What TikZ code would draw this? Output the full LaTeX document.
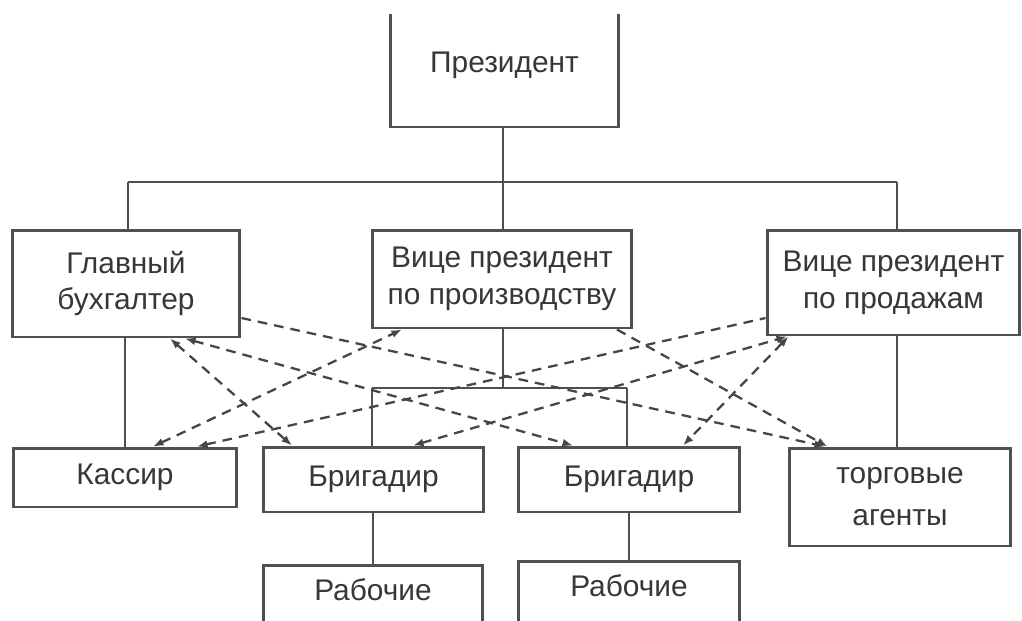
\documentclass[tikz,border=0pt]{standalone}
\usepackage{fontspec}
\setmainfont{Liberation Sans}
\usetikzlibrary{arrows.meta,calc}
\definecolor{boxline}{RGB}{80,80,80}
\definecolor{dashline}{RGB}{70,70,70}
\definecolor{txt}{RGB}{55,55,55}
\tikzset{
  box/.style={draw=boxline, line width=1.7pt, rectangle, inner sep=0pt, align=center,
    text=txt, font=\fontsize{17pt}{21pt}\selectfont},
  lbl/.style={inner sep=0pt, text=txt, font=\fontsize{17pt}{21pt}\selectfont},
  solid link/.style={draw=boxline, line width=1.4pt},
  dlink/.style={draw=dashline, line width=1.3pt, dash pattern=on 5.5pt off 4pt},
  tipa/.tip={Latex[length=6pt,width=4.5pt]}
}
\begin{document}
\begin{tikzpicture}[x=0.02cm,y=-0.02cm]
\useasboundingbox[fill=white] (0,0) rectangle (1022,620);
\begin{scope}
\clip (0,14) rectangle (1022,620);
% top level
\node[box, minimum width=4.58cm, minimum height=2.48cm] (pres) at (504.5,65) {Президент};
% second row
\node[box, minimum width=4.56cm, minimum height=2.14cm] (glav) at (126,283.5) {Главный\\бухгалтер};
\node[box, minimum width=5.2cm, minimum height=1.96cm] (vpp) at (502,279) {Вице президент\\по производству};
\node[box, minimum width=5.06cm, minimum height=2.1cm] (vps) at (893.5,282.5) {Вице президент\\по продажам};
% third row
\node[box, minimum width=4.48cm, minimum height=1.18cm] (kas) at (125,477.5) {Кассир};
\node[box, minimum width=4.42cm, minimum height=1.3cm] (brig1) at (373.5,479.5) {Бригадир};
\node[box, minimum width=4.44cm, minimum height=1.3cm] (brig2) at (629,479.5) {Бригадир};
\node[box, minimum width=4.44cm, minimum height=1.96cm, font=\fontsize{17pt}{24pt}\selectfont] (torg) at (900,497) {торговые\\агенты};
% fourth row (cut by the lower edge)
\node[box, minimum width=4.4cm, minimum height=2cm] (rab1) at (373,615) {};
\node[box, minimum width=4.44cm, minimum height=2cm] (rab2) at (629,611) {};
\node[lbl] (rab1t) at (373,590) {Рабочие};
\node[lbl] (rab2t) at (629,586) {Рабочие};
\end{scope}

% solid hierarchy
\coordinate (busL) at (128,182);
\coordinate (busR) at (897,182);
\coordinate (busM) at (503,182);
\draw[solid link] (busL) -- (busR);
\draw[solid link] (pres.south -| busM) -- (busM |- vpp.north);
\draw[solid link] (busL) -- (busL |- glav.north);
\draw[solid link] (busR) -- (busR |- vps.north);
\draw[solid link] (glav.south -| kas.north) -- (kas.north);
\draw[solid link] (vps.south -| busR) -- (busR |- torg.north);
\coordinate (barM) at (503,388);
\coordinate (barL) at (372,388);
\coordinate (barR) at (627,388);
\draw[solid link] (vpp.south -| barM) -- (barM);
\draw[solid link] (barL) -- (barR);
\draw[solid link] (barL) -- (barL |- brig1.north);
\draw[solid link] (barR) -- (barR |- brig2.north);
\draw[solid link] (brig1.south -| rab1.north) -- (rab1.north);
\draw[solid link] (brig2.south -| rab2.north) -- (rab2.north);

% dashed functional links
\draw[dlink, -tipa] ([yshift=-0.69cm]glav.east) -- ([xshift=-1.5cm]torg.north);
\draw[dlink, tipa-tipa] ([xshift=0.88cm]glav.south) -- ([xshift=-1.63cm]brig1.north);
\draw[dlink, tipa-tipa] ([xshift=1.18cm]glav.south) -- ([xshift=-1.12cm]brig2.north);
\draw[dlink, tipa-tipa] ([xshift=0.56cm]kas.north) -- ([xshift=-2.0cm]vpp.south);
\draw[dlink, tipa-] ([xshift=1.44cm]kas.north) -- ([yshift=-0.71cm]vps.west);
\draw[dlink, tipa-tipa] ([xshift=0.79cm]brig1.north) -- ([xshift=-2.13cm]vps.south);
\draw[dlink, tipa-tipa] ([xshift=-2.1cm]vps.south) -- ([xshift=1.08cm]brig2.north);
\draw[dlink, -tipa] ([xshift=2.3cm]vpp.south) -- ([xshift=-1.45cm]torg.north);
\end{tikzpicture}
\end{document}
